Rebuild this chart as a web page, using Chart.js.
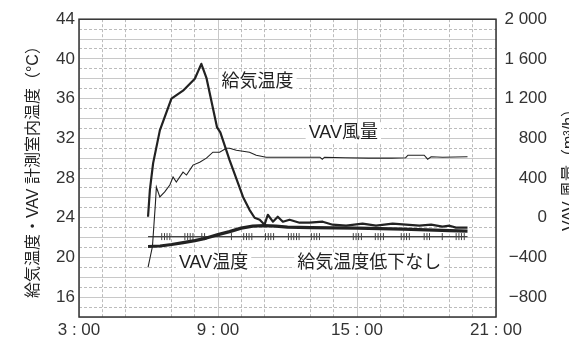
<!DOCTYPE html>
<html>
<head>
<meta charset="utf-8">
<script src="https://cdn.jsdelivr.net/npm/chart.js@4"></script>
<style>
  html, body { margin: 0; padding: 0; background: #fff; overflow: hidden; }
  canvas { display: block; }
</style>
</head>
<body>
<canvas id="chart" width="569" height="339"></canvas>
<script>
// hours of day (3 = 3:00)
const supplyTime = [5.98, 6.06, 6.2, 6.49, 6.99, 7.49, 8.0, 8.28, 8.5, 8.71, 8.96, 9.1, 9.5, 10.08, 10.36, 10.58, 10.8, 11.01, 11.15, 11.37, 11.58, 11.8, 12.09, 12.52, 12.95, 13.52, 13.95, 14.53, 15.24, 15.82, 16.54, 17.11, 17.69, 18.2, 18.69, 19.0, 19.27, 19.77];
const supplyTemp = [24.1, 26.8, 29.5, 32.8, 36.0, 36.8, 38.0, 39.5, 38.1, 35.8, 33.1, 32.6, 29.8, 26.1, 24.8, 24.0, 23.8, 23.3, 24.3, 23.6, 24.1, 23.6, 23.8, 23.5, 23.5, 23.6, 23.3, 23.2, 23.4, 23.2, 23.4, 23.3, 23.2, 23.3, 23.1, 23.2, 23.0, 23.0];

const vavTime = [5.98, 6.5, 7.0, 7.5, 8.0, 8.5, 9.0, 9.5, 10.0, 10.5, 11.0, 11.5, 12.0, 13.0, 15.0, 17.0, 19.0, 19.77];
const vavTemp = [21.1, 21.15, 21.3, 21.5, 21.7, 21.95, 22.3, 22.6, 22.95, 23.15, 23.2, 23.15, 23.05, 23.0, 22.95, 22.85, 22.7, 22.65];

// VAV airflow, m3/h
const flowTime = [5.98, 6.17, 6.3, 6.34, 6.49, 6.7, 6.92, 7.06, 7.2, 7.49, 7.64, 7.92, 8.21, 8.5, 8.78, 9.07, 9.36, 9.5, 9.79, 10.36, 10.65, 11.08, 12.5, 13.4, 13.5, 13.6, 14.5, 15.5, 16.5, 17.1, 17.2, 17.9, 18.05, 18.2, 18.7, 19.77];
const flowRate = [-500, -290, 150, 310, 210, 260, 330, 410, 360, 460, 430, 530, 560, 600, 660, 660, 700, 700, 680, 660, 630, 610, 610, 610, 590, 610, 605, 600, 600, 605, 630, 630, 590, 615, 610, 615];

// measured room temperature, hash marks on the line
const roomTemp = 22.1;
const roomStart = 5.98;
const roomEnd = 19.77;
const roomMarks = [6.57, 6.69, 6.8, 6.92, 7.57, 7.69, 7.8, 7.92, 8.3, 8.42, 9.58,
  10.11, 10.23, 10.34, 10.46, 11.05, 11.17, 11.28, 11.4, 12.04, 12.16, 12.27, 12.39, 12.5,
  13.03, 13.15, 13.26, 13.38, 14.84, 14.96, 15.07, 15.19, 15.79, 15.91, 16.02, 16.14,
  16.91, 17.03, 17.14, 17.26, 17.9, 18.02, 18.13, 18.68, 19.28, 19.4, 19.51, 19.63];

const tempTicks = [16, 20, 24, 28, 32, 36, 40, 44];
const flowTicks = [-800, -400, 0, 400, 800, 1200, 1600, 2000];
const hourTicks = [3, 9, 15, 21];

const notes = [
  { text: "給気温度", x: 10.71, y: 37.7 },
  { text: "VAV風量", x: 14.41, y: 32.5 },
  { text: "VAV温度", x: 8.81, y: 19.4 },
  { text: "給気温度低下なし", x: 15.53, y: 19.4 }
];

const FONT = '"Liberation Sans", "Noto Sans CJK JP", Arial, sans-serif';
const INK = "#222";
const SOLID = "#c8c8c8";
const DASH = "#bcbcbc";

const pts = (xs, ys) => xs.map((x, i) => ({ x, y: ys[i] }));
const roomX = [roomStart, ...roomMarks, roomEnd];

const fmtFlow = (v) => {
  const s = String(Math.abs(v)).replace(/\B(?=(\d{3})+(?!\d))/g, " ");
  return v < 0 ? "\u2212" + s : s;
};

const frame = {
  id: "frame",
  beforeDatasetsDraw(chart) {
    const { ctx, chartArea: a, scales } = chart;
    ctx.save();
    ctx.font = "18px " + FONT;
    ctx.textAlign = "center";
    ctx.textBaseline = "middle";
    notes.forEach((n) => {
      const px = scales.x.getPixelForValue(n.x);
      const py = scales.y.getPixelForValue(n.y);
      const w = ctx.measureText(n.text).width;
      ctx.fillStyle = "#fff";
      ctx.fillRect(px - w / 2 - 3, py - 10, w + 6, 20);
      ctx.fillStyle = INK;
      ctx.fillText(n.text, px, py);
    });
    ctx.strokeStyle = "#333";
    ctx.lineWidth = 1.5;
    ctx.strokeRect(a.left, a.top, a.right - a.left, a.bottom - a.top);
    ctx.restore();
  },
  afterDraw(chart) {
    const { ctx } = chart;
    ctx.save();
    ctx.translate(570, 166);
    ctx.rotate(-Math.PI / 2);
    ctx.font = "16px " + FONT;
    ctx.fillStyle = INK;
    ctx.textAlign = "center";
    ctx.textBaseline = "middle";
    ctx.fillText("VAV 風量（m³/h）", 0, 0);
    ctx.restore();
  }
};

new Chart(document.getElementById("chart"), {
  type: "line",
  data: {
    datasets: [
      {
        label: "給気温度",
        data: pts(supplyTime, supplyTemp),
        yAxisID: "y",
        borderColor: INK,
        borderWidth: 2.2,
        pointRadius: 0,
        borderJoinStyle: "round"
      },
      {
        label: "VAV温度",
        data: pts(vavTime, vavTemp),
        yAxisID: "y",
        borderColor: INK,
        borderWidth: 3.2,
        pointRadius: 0,
        borderJoinStyle: "round"
      },
      {
        label: "VAV風量",
        data: pts(flowTime, flowRate),
        yAxisID: "y1",
        borderColor: INK,
        borderWidth: 1.1,
        pointRadius: 0
      },
      {
        label: "計測室内温度",
        data: roomX.map((x) => ({ x, y: roomTemp })),
        yAxisID: "y",
        borderColor: "#444",
        borderWidth: 1.3,
        pointStyle: "line",
        rotation: 90,
        pointRadius: roomX.map((x, i) => (i === 0 || i === roomX.length - 1 ? 0 : 3.5)),
        pointBorderWidth: 1,
        pointBorderColor: "#444"
      }
    ]
  },
  options: {
    responsive: false,
    animation: false,
    devicePixelRatio: 1,
    layout: { padding: { top: 17, left: 0, right: 22, bottom: 0 } },
    plugins: { legend: { display: false }, tooltip: { enabled: false } },
    elements: { line: { tension: 0 } },
    scales: {
      x: {
        type: "linear",
        position: "bottom",
        min: 3,
        max: 21,
        afterBuildTicks: (s) => { s.ticks = hourTicks.map((value) => ({ value })); },
        ticks: {
          autoSkip: false,
          maxRotation: 0,
          padding: 3,
          color: "#333",
          font: { family: FONT, size: 17 },
          callback: (v) => v + " : 00"
        },
        grid: { color: SOLID, lineWidth: 1, drawTicks: false },
        border: { display: false },
        afterFit: (s) => { s.height = 22; }
      },
      xMinor: {
        type: "linear",
        position: "bottom",
        min: 3,
        max: 21,
        ticks: { display: false, stepSize: 1, autoSkip: false },
        grid: {
          color: (c) => (c.tick && c.tick.value % 3 !== 0 ? DASH : "rgba(0,0,0,0)"),
          lineWidth: 1,
          drawTicks: false
        },
        border: { display: false, dash: [3, 2] },
        afterFit: (s) => { s.height = 0; }
      },
      y: {
        type: "linear",
        position: "left",
        min: 14,
        max: 44,
        ticks: {
          stepSize: 2,
          autoSkip: false,
          padding: 4,
          color: "#333",
          font: { family: FONT, size: 17 },
          callback: (v) => (tempTicks.includes(v) ? v : "")
        },
        grid: { color: SOLID, lineWidth: 1, drawTicks: false },
        border: { display: false },
        title: {
          display: true,
          text: "給気温度・VAV 計測室内温度（°C）",
          color: INK,
          font: { family: FONT, size: 16 },
          padding: { top: 24, bottom: 0 }
        },
        afterFit: (s) => { s.width = 79; }
      },
      yMinor: {
        type: "linear",
        position: "left",
        min: 14,
        max: 44,
        ticks: { display: false, stepSize: 1, autoSkip: false },
        grid: {
          color: (c) => (c.tick && Math.abs(c.tick.value % 2) === 1 ? DASH : "rgba(0,0,0,0)"),
          lineWidth: 1,
          drawTicks: false
        },
        border: { display: false, dash: [3, 2] },
        afterFit: (s) => { s.width = 0; }
      },
      y1: {
        type: "linear",
        position: "right",
        min: -1000,
        max: 2000,
        afterBuildTicks: (s) => { s.ticks = flowTicks.map((value) => ({ value })); },
        ticks: {
          autoSkip: false,
          padding: 9,
          crossAlign: "far",
          color: "#333",
          font: { family: FONT, size: 17 },
          callback: (v) => fmtFlow(v)
        },
        grid: { drawOnChartArea: false, drawTicks: false },
        border: { display: false },
        afterFit: (s) => { s.width = 51; }
      }
    }
  },
  plugins: [frame]
});
</script>
</body>
</html>
